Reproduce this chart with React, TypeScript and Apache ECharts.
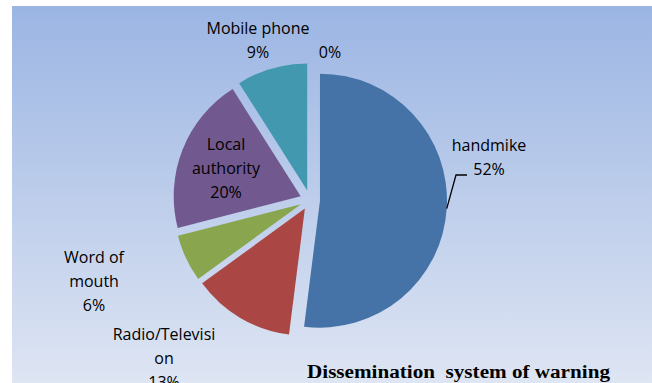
import React, { useEffect, useRef } from "react";
import * as echarts from "echarts";

const CATEGORIES = ["handmike", "Radio/Television", "Word of mouth", "Local authority", "Mobile phone", ""];
const LABEL_TEXTS = ["handmike", "Radio/Televisi\non", "Word of\nmouth", "Local\nauthority", "Mobile phone", ""];
const VALUES = [52, 13, 6, 20, 9, 0];
const COLORS = ["#4572A7", "#AA4643", "#89A54E", "#71588F", "#4198AF", "#DB843D"];
const TITLE = "Dissemination  system of warning";

// label anchor positions (layout only)
const LABEL_POS: [number, number][] = [
  [489, 157],
  [164, 358],
  [94, 281],
  [226, 168],
  [258, 40],
  [330, 52],
];

const CENTER: [number, number] = [310, 200];
const RADIUS = 127;
const EXPLODE = 10;

export default function App() {
  const ref = useRef<HTMLDivElement>(null);
  useEffect(() => {
    const chart = echarts.init(ref.current!, null, { renderer: "svg" });
    const total = VALUES.reduce((a, b) => a + b, 0);
    const pieData = VALUES.map((v, i) => ({
      name: CATEGORIES[i],
      value: v,
      selected: true,
      itemStyle: { color: COLORS[i] },
    }));
    const labelData = VALUES.map((v, i) => ({
      name: CATEGORIES[i],
      value: v,
      label: {
        formatter: () => {
          const pct = Math.round((v / total) * 100) + "%";
          return LABEL_TEXTS[i] ? LABEL_TEXTS[i] + "\n" + pct : pct;
        },
      },
      labelLine: { show: i === 0 },
    }));
    chart.setOption({
      animation: false,
      backgroundColor: "#ffffff",
      graphic: [
        {
          type: "rect",
          z: -10,
          shape: { x: 12, y: 6, width: 640, height: 377 },
          style: {
            fill: new echarts.graphic.LinearGradient(0, 0, 0, 1, [
              { offset: 0, color: "#9BB5E3" },
              { offset: 1, color: "#DEE5F3" },
            ]),
          },
          silent: true,
        },
        {
          type: "text",
          x: 307,
          y: 372,
          scaleX: 1.175,
          z: 10,
          style: {
            text: TITLE,
            fontFamily: "Liberation Serif",
            fontWeight: "bold",
            fontSize: 18,
            fill: "#000",
            verticalAlign: "middle",
            align: "left",
          },
          silent: true,
        },
      ],
      series: [
        {
          type: "pie",
          center: CENTER,
          radius: RADIUS,
          startAngle: 90,
          clockwise: true,
          selectedMode: "multiple",
          selectedOffset: EXPLODE,
          data: pieData,
          label: { show: false },
          labelLine: { show: false },
          emphasis: { disabled: true },
          silent: true,
        },
        {
          type: "pie",
          center: CENTER,
          radius: RADIUS + EXPLODE,
          startAngle: 90,
          clockwise: true,
          silent: true,
          avoidLabelOverlap: false,
          z: 3,
          itemStyle: { color: "rgba(0,0,0,0)" },
          data: labelData,
          label: {
            show: true,
            position: "outside",
            color: "#000",
            fontFamily: "Open Sans",
            fontSize: 16,
            lineHeight: 24,
            align: "center",
          },
          labelLine: {
            show: false,
            length: 10,
            length2: 10,
            lineStyle: { color: "#000", width: 1.3 },
          },
          labelLayout: (params: any) => {
            const p = LABEL_POS[params.dataIndex];
            const out: any = { x: p[0], y: p[1], align: "center", verticalAlign: "middle" };
            if (params.dataIndex === 0 && params.labelLinePoints) {
              const s = params.labelLinePoints[0];
              out.labelLinePoints = [
                [s[0], s[1]],
                [p[0] - 33, p[1] + 18],
                [p[0] - 22, p[1] + 18],
              ];
            }
            return out;
          },
          emphasis: { disabled: true },
        },
      ],
    });
    return () => chart.dispose();
  }, []);
  return (
    <div
      ref={ref}
      style={{ position: "fixed", left: 0, top: 0, width: 652, height: 383 }}
    />
  );
}
